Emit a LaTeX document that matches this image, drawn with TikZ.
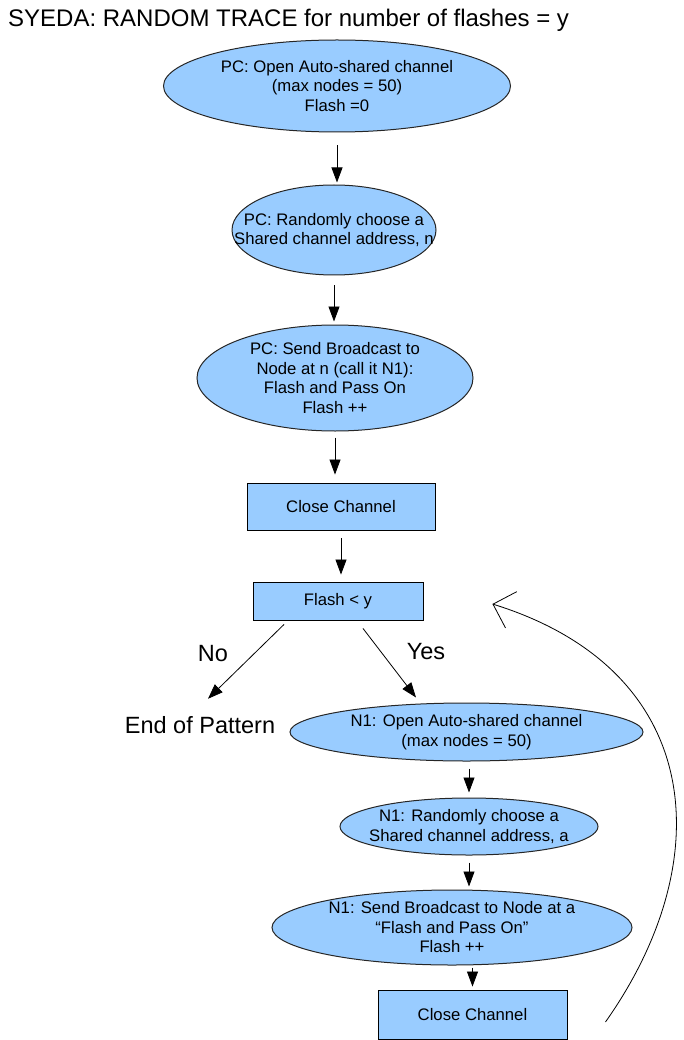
\documentclass[tikz,border=0pt]{standalone}
\usepackage{fontspec}
\setmainfont{Liberation Sans}
\usepackage{tikz}
\usetikzlibrary{positioning,shapes.geometric,arrows.meta}
\definecolor{boxblue}{HTML}{99CCFF}

\begin{document}
\begin{tikzpicture}[x=1pt, y=-1pt,
  oval/.style={ellipse, draw=black!85, line width=1pt, fill=boxblue, inner sep=-200pt, align=center, font=\fontsize{16.7}{19.5}\selectfont},
  box/.style={rectangle, draw, line width=0.9pt, fill=boxblue, inner sep=0pt, align=center, font=\fontsize{16.7}{19.5}\selectfont},
  big/.style={inner sep=0pt, anchor=base, font=\fontsize{23.5}{28}\selectfont},
  arr/.style={-{Triangle[length=15pt,width=11pt]}, line width=0.8pt},
  back/.style={-{Straight Barb[length=19pt,width=38pt]}, line width=0.8pt}]
\useasboundingbox (0,0) rectangle (684,1040);

\node[anchor=base west, inner sep=0pt, font=\fontsize{24}{28}\selectfont] at (8,27) (title) {SYEDA: RANDOM TRACE for number of flashes = y};

% PC side
\node[oval, minimum width=347pt, minimum height=92pt] at (337,86) (open) {PC: Open Auto-shared channel\\(max nodes = 50)\\Flash =0};
\node[oval, minimum width=204pt, minimum height=90pt] at (334,230) (pick) {PC: Randomly choose a\\Shared channel address, n};
\node[oval, minimum width=276pt, minimum height=106pt] at (335,378) (send) {PC: Send Broadcast to\\Node at n (call it N1):\\Flash and Pass On\\Flash ++};
\node[box, minimum width=188pt, minimum height=47pt] at (341,506.5) (close) {Close Channel};
\node[box, minimum width=170pt, minimum height=38pt] at (338,601) (test) {Flash < y};

\node[big] at (213,661) (no) {No};
\node[big] at (426,659) (yes) {Yes};
\node[big] at (200,733) (end) {End of Pattern};

% N1 side
\node[oval, minimum width=353pt, minimum height=58pt] at (466.5,732) (nopen) {N1: Open Auto-shared channel\\(max nodes = 50)};
\node[oval, minimum width=258pt, minimum height=57pt] at (469,826.5) (npick) {N1: Randomly choose a\\Shared channel address, a};
\node[oval, minimum width=360pt, minimum height=75pt] at (452,927.5) (nsend) {N1: Send Broadcast to Node at a\\“Flash and Pass On”\\Flash ++};
\node[box, minimum width=189pt, minimum height=49pt] at (472.5,1014.5) (nclose) {Close Channel};

\draw[arr] ([yshift=-13pt]open.south) -- ([yshift=2pt]open.south |- pick.north);
\draw[arr] ([yshift=-10pt]pick.south) -- ([yshift=3pt]send.north -| pick.south);
\draw[arr] ([yshift=-6pt]send.south) -- ([yshift=8pt]close.north -| send.south);
\draw[arr] ([yshift=-8pt]close.south) -- ([yshift=7pt]test.north -| close.south);
\draw[arr] ([xshift=-54pt,yshift=-4pt]test.south) -- ([xshift=8pt,yshift=17pt]end.north);
\draw[arr] ([xshift=25pt,yshift=-8pt]test.south) -- ([xshift=-50.5pt,yshift=5pt]nopen.north);
\draw[arr] ([yshift=-7pt]nopen.south -| npick.north) -- ([yshift=5pt]npick.north);
\draw[arr] ([yshift=-7pt]npick.south) -- ([yshift=3pt]nsend.north -| npick.south);
\draw[arr] ([yshift=-2pt]nsend.south -| nclose.north) -- ([yshift=3pt]nclose.north);

% loop back
\draw[back] ([xshift=38pt,yshift=-7.5pt]nclose.east) .. controls (720,860) and (705,670) .. ([xshift=69pt,yshift=-3pt]test.east);
\end{tikzpicture}
\end{document}
